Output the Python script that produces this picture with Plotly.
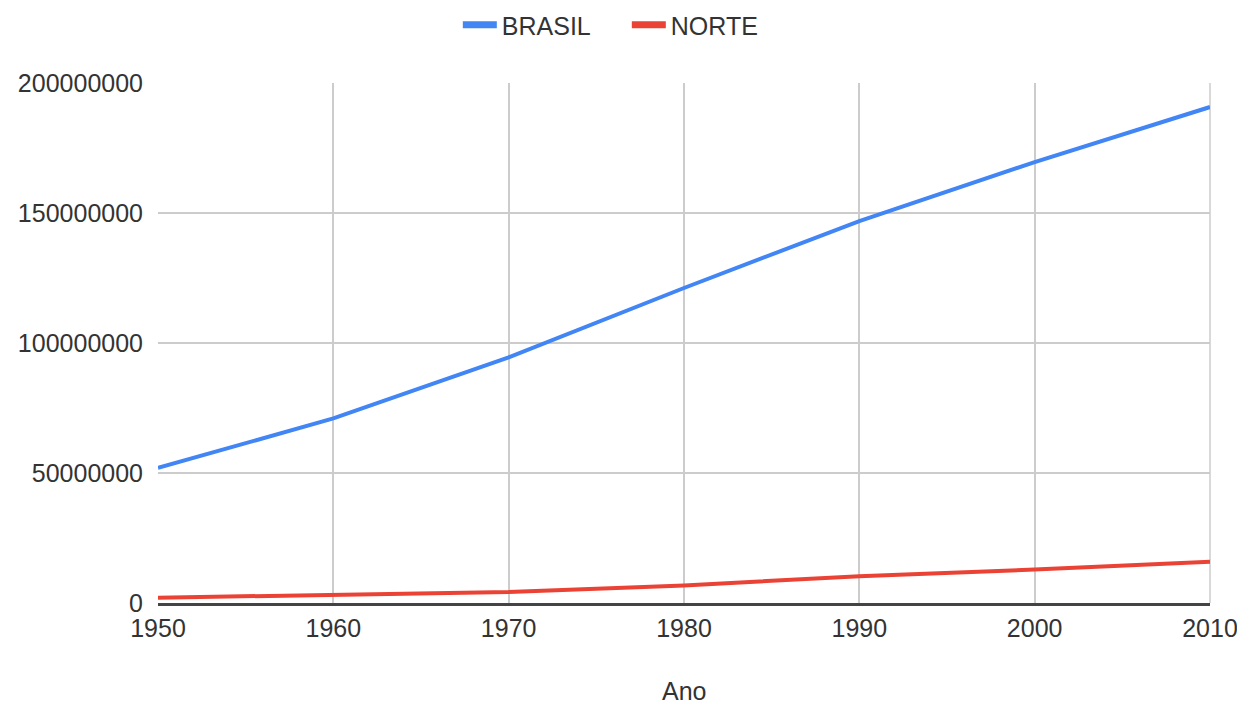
import plotly.graph_objects as go

anos = [1950, 1960, 1970, 1980, 1990, 2000, 2010]
brasil = [51944397, 70992343, 94508583, 121150573, 146917459, 169590693, 190755799]
norte = [2048696, 2930005, 4188313, 6767249, 10257266, 12893561, 15864454]

azul = "#4285F4"
vermelho = "#EA4335"

fig = go.Figure()
fig.add_trace(go.Scatter(x=anos, y=brasil, mode="lines", name="BRASIL", showlegend=False,
                         line=dict(color=azul, width=4)))
fig.add_trace(go.Scatter(x=anos, y=norte, mode="lines", name="NORTE", showlegend=False,
                         line=dict(color=vermelho, width=4)))
# legend-only entries with a thicker swatch
fig.add_trace(go.Scatter(x=[None], y=[None], mode="lines", name="BRASIL",
                         line=dict(color=azul, width=7)))
fig.add_trace(go.Scatter(x=[None], y=[None], mode="lines", name="NORTE",
                         line=dict(color=vermelho, width=7)))

fig.update_layout(
    width=1229, height=696,
    margin=dict(l=150, r=27, t=75, b=101, autoexpand=False),
    paper_bgcolor="white", plot_bgcolor="white",
    font=dict(family="Liberation Sans, Arial", size=25, color="#333333"),
    legend=dict(orientation="h", xref="container", x=0.366, xanchor="left",
                yref="paper", y=1.1115, yanchor="middle",
                font=dict(size=25, color="#333333"), itemwidth=34,
                entrywidth=120, entrywidthmode="pixels"),
    xaxis=dict(range=[1950, 2010], dtick=10, tick0=1950, showgrid=True,
               gridcolor="#cccccc", gridwidth=1.5, zeroline=False,
               showline=True, linecolor="#444444", linewidth=2.5,
               ticks="", ticklabelstandoff=1, ticklabeloverflow="allow",
               automargin=False),
    yaxis=dict(range=[0, 200000000], dtick=50000000, showgrid=True,
               gridcolor="#cccccc", gridwidth=1.5, zeroline=False,
               ticks="", ticklabelstandoff=14, tickformat="d",
               showline=False, automargin=False),
    shapes=[dict(type="line", xref="paper", yref="paper", x0=1, x1=1, y0=0, y1=1,
                 line=dict(color="#cccccc", width=1.5), layer="below")],
    annotations=[dict(text="Ano", xref="paper", yref="paper", x=0.5, y=-0.169,
                      xanchor="center", yanchor="middle", showarrow=False,
                      font=dict(size=25, color="#333333"))],
)

fig.write_html("out.html")
